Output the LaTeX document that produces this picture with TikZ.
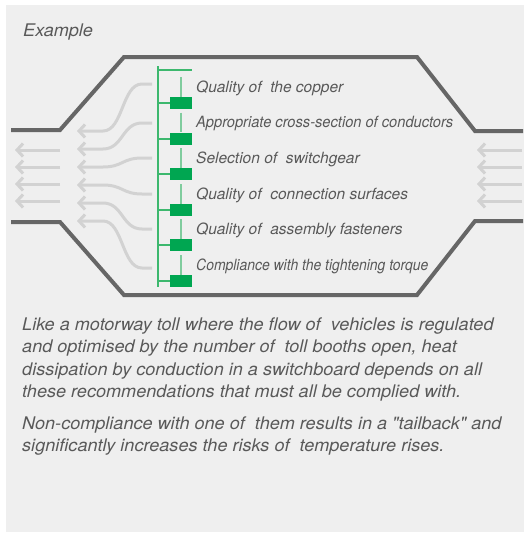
\documentclass[tikz,border=0pt]{standalone}
\usepackage{fontspec}
\setmainfont{TeX Gyre Heros}
\newfontfamily\widefont[FakeStretch=1.04]{TeX Gyre Heros}
\usetikzlibrary{arrows.meta,calc}
\definecolor{bg}{HTML}{EFEFEF}
\definecolor{outline}{HTML}{666666}
\definecolor{flow}{HTML}{D2D2D2}
\definecolor{gbar}{HTML}{3DB86E}
\definecolor{gstem}{HTML}{80CC9E}
\definecolor{gbox}{HTML}{00A651}
\definecolor{txt}{HTML}{595959}
\tikzset{
  road/.style={draw=outline, line width=4pt},
  flowline/.style={draw=flow, line width=3pt, -{Straight Barb[length=6pt,width=13pt]}},
  greenbox/.style={fill=gbox, draw=none, minimum width=22pt, minimum height=12pt, inner sep=0pt},
  barline/.style={draw=gbar, line width=2pt},
  stemline/.style={draw=gstem, line width=2pt},
  lab/.style={anchor=west, inner sep=0pt, text=txt, font=\fontsize{15.5}{18}\selectfont\itshape},
  para/.style={anchor=north west, inner sep=0pt, align=left, text=txt, font=\widefont\fontsize{17.4}{22.4}\selectfont\itshape}
}
\begin{document}
\begin{tikzpicture}[x=1pt,y=-1pt]
\useasboundingbox (0,0) rectangle (525,533);
\fill[bg] (6,5) rectangle (524,532);
\node[para] (ex) at (23,24) {Example};
% road outline
\draw[road] (11,130) -- (60,130) -- (124,57) -- (417,57) -- (475,131) -- (523,131);
\draw[road] (11,222) -- (60,222) -- (124,295) -- (417,295) -- (475,221) -- (523,221);
% outside arrows
\foreach \i/\y in {1/150,2/167,3/184,4/201}{
  \coordinate (lo\i) at (60,\y); \coordinate (lt\i) at (15,\y);
  \draw[flowline] (lo\i) -- (lt\i);
  \coordinate (ro\i) at (522,\y); \coordinate (rt\i) at (477,\y);
  \draw[flowline] (ro\i) -- (rt\i);
}
% inner flows
\foreach \i/\ys/\ye in {1/84/131,2/123/149,3/158/167,4/194/185,5/229/203,6/268/221}{
  \coordinate (fs\i) at (152,\ys); \coordinate (fe\i) at (77,\ye);
  \draw[flowline] (fs\i) -- ($(fs\i)+(-10,0)$) .. controls ($(fs\i)+(-30,0)$) and ($(fe\i)+(46,0)$) .. ($(fe\i)+(26,0)$) -- (fe\i);
}
% green bar
\coordinate (bt) at (158,66); \coordinate (bb) at (158,287); \coordinate (bt2) at (192,70); \coordinate (bt1) at (158,70);
\draw[barline] (bt) -- (bb);
\draw[barline] (bt1) -- (bt2);
\foreach \i/\y/\t in {1/103/{Quality of\ \ the copper},
                      2/138.5/{\scalebox{0.945}[1]{Appropriate cross-section of conductors}},
                      3/174/{Selection of\ \ switchgear},
                      4/210/{Quality of\ \ connection surfaces},
                      5/245/{Quality of\ \ assembly fasteners},
                      6/281/{\scalebox{0.90}[1]{Compliance with the tightening torque}}}{
  \node[greenbox] (b\i) at (181,\y) {};
  \coordinate (h\i) at (158,\y);
  \draw[barline] (h\i) -- (b\i.west);
  \coordinate (s\i) at (181,\y-26);
  \draw[stemline] (s\i) -- (b\i.north);
  \node[lab] (l\i) at (196,\y-15) {\t};
}
\node[para] (p1) at (22,317.5) {Like a motorway toll where the flow of\ \ vehicles is regulated\\
and optimised by the number of\ \ toll booths open, heat\\
dissipation by conduction in a switchboard depends on all\\
these recommendations that must all be complied with.};
\node[para] (p2) at (22,416.5) {Non-compliance with one of\ \ them results in a \symbol{34}tailback\symbol{34} and\\
significantly increases the risks of\ \ temperature rises.};
\end{tikzpicture}
\end{document}
